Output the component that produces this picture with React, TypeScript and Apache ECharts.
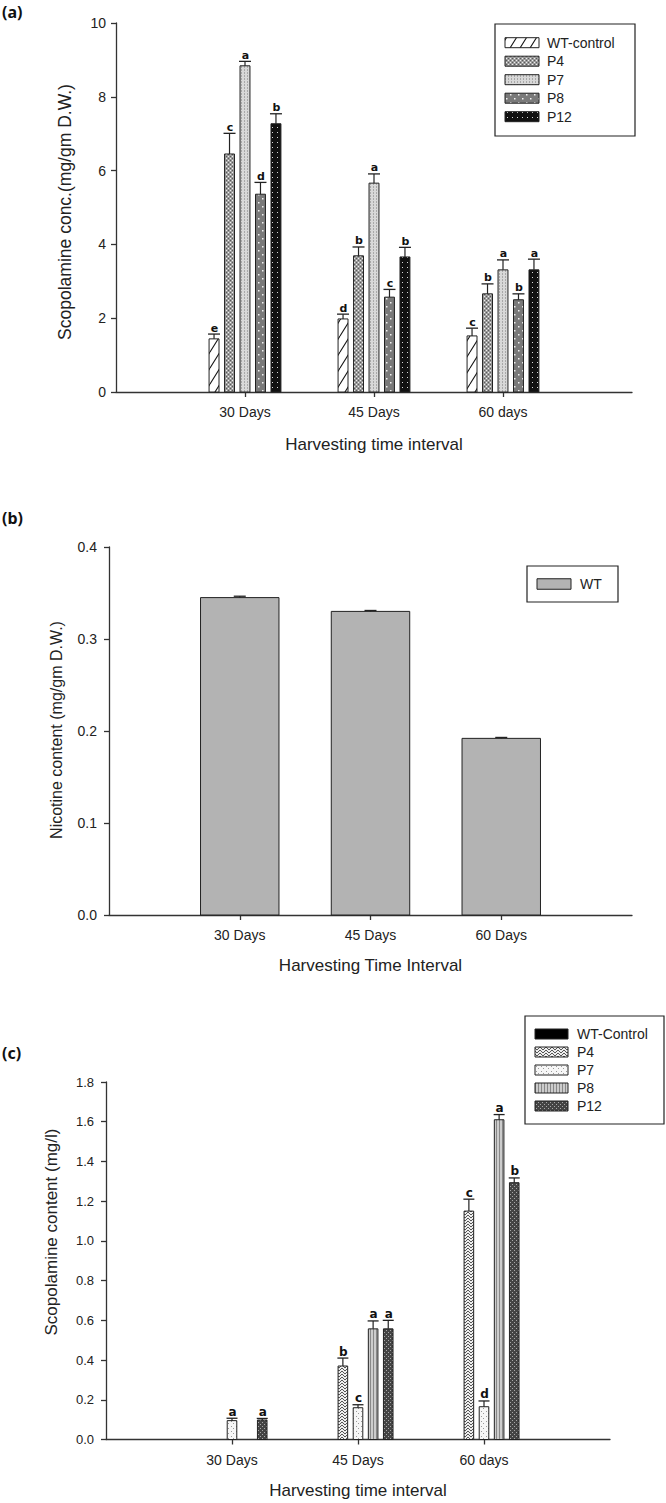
import { useEffect, useRef } from 'react';
import * as echarts from 'echarts';

const FONT = "'Liberation Sans', Arial, Helvetica, sans-serif";
const BOLD = "'DejaVu Sans', 'Noto Sans', sans-serif";
const PANEL_FONT = "'Noto Sans', 'DejaVu Sans', sans-serif";

// ---------- Panel (a) ----------
const catsA = ['30 Days', '45 Days', '60 days'];
const namesA = ['WT-control', 'P4', 'P7', 'P8', 'P12'];
const aWT = [1.44, 1.98, 1.52];
const aWTErr = [0.13, 0.13, 0.21];
const aWTSig = ['e', 'd', 'c'];
const aP4 = [6.45, 3.69, 2.66];
const aP4Err = [0.56, 0.24, 0.27];
const aP4Sig = ['c', 'b', 'b'];
const aP7 = [8.84, 5.66, 3.31];
const aP7Err = [0.12, 0.25, 0.27];
const aP7Sig = ['a', 'a', 'a'];
const aP8 = [5.36, 2.57, 2.5];
const aP8Err = [0.32, 0.21, 0.16];
const aP8Sig = ['d', 'c', 'b'];
const aP12 = [7.27, 3.66, 3.31];
const aP12Err = [0.27, 0.26, 0.29];
const aP12Sig = ['b', 'b', 'a'];
const ticksA = [0, 2, 4, 6, 8, 10];

// ---------- Panel (b) ----------
const catsB = ['30 Days', '45 Days', '60 Days'];
const namesB = ['WT'];
const bWT = [0.345, 0.330, 0.192];
const bWTErr = [0.0015, 0.001, 0.001];
const ticksB = [0, 0.1, 0.2, 0.3, 0.4];

// ---------- Panel (c) ----------
const catsC = ['30 Days', '45 Days', '60 days'];
const namesC = ['WT-Control', 'P4', 'P7', 'P8', 'P12'];
const cWT = [null, null, null];
const cWTErr = [null, null, null];
const cWTSig = ['', '', ''];
const cP4 = [null, 0.37, 1.15];
const cP4Err = [null, 0.04, 0.06];
const cP4Sig = ['', 'b', 'c'];
const cP7 = [0.095, 0.16, 0.165];
const cP7Err = [0.012, 0.015, 0.029];
const cP7Sig = ['a', 'c', 'd'];
const cP8 = [null, 0.557, 1.61];
const cP8Err = [null, 0.04, 0.026];
const cP8Sig = ['', 'a', 'a'];
const cP12 = [0.098, 0.557, 1.293];
const cP12Err = [0.008, 0.043, 0.024];
const cP12Sig = ['a', 'a', 'b'];
const ticksC = [0, 0.2, 0.4, 0.6, 0.8, 1.0, 1.2, 1.4, 1.6, 1.8];

type Draw = (ctx: CanvasRenderingContext2D, w: number, h: number) => void;

function tile(w: number, h: number, draw: Draw): any {
  const c = document.createElement('canvas');
  c.width = w;
  c.height = h;
  const ctx = c.getContext('2d') as CanvasRenderingContext2D;
  draw(ctx, w, h);
  return { image: c.toDataURL(), repeat: 'repeat', imageWidth: w, imageHeight: h };
}

function makePatterns() {
  const aWTp = tile(10, 16, (ctx, w, h) => {
    ctx.fillStyle = '#fff';
    ctx.fillRect(0, 0, w, h);
    ctx.strokeStyle = '#111';
    ctx.lineWidth = 1.1;
    for (const o of [-w, 0, w]) {
      ctx.beginPath();
      ctx.moveTo(o, h);
      ctx.lineTo(o + w, 0);
      ctx.stroke();
    }
  });
  const aP4p = tile(4, 4, (ctx) => {
    ctx.fillStyle = '#9c9c9c';
    ctx.fillRect(0, 0, 4, 4);
    ctx.fillStyle = '#efefef';
    ctx.fillRect(0, 0, 1, 1);
    ctx.fillRect(2, 2, 1, 1);
    ctx.fillStyle = '#5a5a5a';
    ctx.fillRect(2, 0, 1, 1);
    ctx.fillRect(0, 2, 1, 1);
  });
  const aP7p = tile(3, 3, (ctx) => {
    ctx.fillStyle = '#d8d8d8';
    ctx.fillRect(0, 0, 3, 3);
    ctx.fillStyle = '#a8a8a8';
    ctx.fillRect(1, 0, 1, 2);
  });
  const aP8p = tile(8, 8, (ctx) => {
    ctx.fillStyle = '#7a7a7a';
    ctx.fillRect(0, 0, 8, 8);
    ctx.fillStyle = '#f2f2f2';
    ctx.fillRect(2, 2, 1.5, 1.5);
    ctx.fillRect(6, 6, 1.5, 1.5);
  });
  const aP12p = tile(5, 5, (ctx) => {
    ctx.fillStyle = '#111';
    ctx.fillRect(0, 0, 5, 5);
    ctx.fillStyle = '#d8d8d8';
    ctx.fillRect(2, 2, 1, 1);
  });
  const cP4p = tile(6, 6, (ctx) => {
    ctx.fillStyle = '#eeeeee';
    ctx.fillRect(0, 0, 6, 6);
    ctx.strokeStyle = '#555';
    ctx.lineWidth = 1;
    ctx.beginPath();
    ctx.moveTo(0, 0);
    ctx.lineTo(3, 3);
    ctx.lineTo(6, 0);
    ctx.moveTo(0, 3);
    ctx.lineTo(3, 6);
    ctx.lineTo(6, 3);
    ctx.stroke();
  });
  const cP7p = tile(5, 5, (ctx) => {
    ctx.fillStyle = '#f6f6f6';
    ctx.fillRect(0, 0, 5, 5);
    ctx.fillStyle = '#9a9a9a';
    ctx.fillRect(1, 1, 1, 1);
    ctx.fillRect(3, 3, 1, 1);
  });
  const cP8p = tile(3, 3, (ctx) => {
    ctx.fillStyle = '#cccccc';
    ctx.fillRect(0, 0, 3, 3);
    ctx.fillStyle = '#888';
    ctx.fillRect(1, 0, 1, 3);
  });
  const cP12p = tile(4, 4, (ctx) => {
    ctx.fillStyle = '#444';
    ctx.fillRect(0, 0, 4, 4);
    ctx.fillStyle = '#a8a8a8';
    ctx.fillRect(0, 0, 1, 1);
    ctx.fillRect(2, 2, 1, 1);
  });
  return {
    a: [aWTp, aP4p, aP7p, aP8p, aP12p],
    b: ['#b3b3b3'],
    c: ['#000', cP4p, cP7p, cP8p, cP12p],
  };
}

function toData(vals: (number | null)[], errs: (number | null)[]) {
  return vals.map((v, i) => [i + 1, v == null ? '-' : v, errs[i] == null ? 0 : errs[i]]);
}

function makeRender(idx: number, n: number, barW: number, step: number, fill: any, sigs: string[], capHalf: number, sigSize: number) {
  return (params: any, api: any) => {
    const v = api.value(1);
    if (v == null || isNaN(v)) return null;
    const x = api.value(0) + (idx - (n - 1) / 2) * step;
    const e = api.value(2) || 0;
    const p0 = api.coord([x - barW / 2, 0]);
    const p1 = api.coord([x + barW / 2, v]);
    const pc = api.coord([x, v]);
    const pe = api.coord([x, v + e]);
    const children: any[] = [
      {
        type: 'rect',
        shape: { x: p0[0], y: p1[1], width: p1[0] - p0[0], height: p0[1] - p1[1] },
        style: { fill, stroke: '#222', lineWidth: 1 },
      },
    ];
    if (e > 0) {
      children.push({
        type: 'line',
        shape: { x1: pc[0], y1: pc[1], x2: pc[0], y2: pe[1] },
        style: { stroke: '#222', lineWidth: 1.2 },
      });
      children.push({
        type: 'line',
        shape: { x1: pc[0] - capHalf, y1: pe[1], x2: pc[0] + capHalf, y2: pe[1] },
        style: { stroke: '#222', lineWidth: 1.3 },
      });
    }
    const s = sigs[params.dataIndex];
    if (s) {
      children.push({
        type: 'text',
        x: pc[0] + 0.5,
        y: pe[1] - 0.5,
        style: { text: s, fontSize: sigSize, fontWeight: 'bold', fontFamily: BOLD, fill: '#111', align: 'center', verticalAlign: 'bottom' },
      });
    }
    return { type: 'group', children };
  };
}

function xAxisFor(gridIndex: number, cats: string[], name: string, gap: number) {
  return {
    type: 'value',
    gridIndex,
    min: 0,
    max: 4,
    interval: 1,
    name,
    nameLocation: 'middle',
    nameGap: gap,
    nameTextStyle: { fontFamily: FONT, fontSize: 17, color: '#222' },
    axisLine: { show: true, onZero: false, lineStyle: { color: '#333', width: 1.3 } },
    axisTick: { show: true, length: 5, customValues: [1, 2, 3], lineStyle: { color: '#333', width: 1.3 } },
    axisLabel: {
      customValues: [1, 2, 3],
      margin: 13,
      fontFamily: FONT,
      fontSize: 14,
      color: '#222',
      formatter: (v: number) => cats[Math.round(v) - 1] ?? '',
    },
    splitLine: { show: false },
  };
}

function yAxisFor(gridIndex: number, ticks: number[], digits: number, fontSize: number, margin: number) {
  return {
    type: 'value',
    gridIndex,
    min: ticks[0],
    max: ticks[ticks.length - 1],
    interval: ticks[1] - ticks[0],
    axisLine: { show: true, lineStyle: { color: '#333', width: 1.3 } },
    axisTick: { show: true, length: 5, lineStyle: { color: '#333', width: 1.3 } },
    axisLabel: {
      margin,
      fontFamily: FONT,
      fontSize,
      color: '#222',
      formatter: (v: number) => v.toFixed(digits),
    },
    splitLine: { show: false },
  };
}

function legendGraphic(x: number, y: number, w: number, h: number, names: string[], fills: any[], rowY0: number, rowStep: number, swX: number, swW: number, swH: number, textX: number) {
  const children: any[] = [
    { type: 'rect', shape: { x, y, width: w, height: h }, style: { fill: '#fff', stroke: '#222', lineWidth: 1.2 } },
  ];
  names.forEach((nm, i) => {
    const cy = rowY0 + i * rowStep;
    children.push({
      type: 'rect',
      shape: { x: swX, y: cy - swH / 2, width: swW, height: swH },
      style: { fill: fills[i], stroke: '#222', lineWidth: 1 },
    });
    children.push({
      type: 'text',
      x: textX,
      y: cy,
      style: { text: nm, fontFamily: FONT, fontSize: 14, fill: '#222', align: 'left', verticalAlign: 'middle' },
    });
  });
  return { type: 'group', children };
}

export default function App() {
  const ref = useRef<HTMLDivElement>(null);
  useEffect(() => {
    if (!ref.current) return;
    const chart = echarts.init(ref.current, undefined, { renderer: 'svg' });
    const P = makePatterns();

    const seriesA = [
      [aWT, aWTErr, aWTSig],
      [aP4, aP4Err, aP4Sig],
      [aP7, aP7Err, aP7Sig],
      [aP8, aP8Err, aP8Sig],
      [aP12, aP12Err, aP12Sig],
    ].map((s: any, i) => ({
      type: 'custom',
      name: namesA[i],
      xAxisIndex: 0,
      yAxisIndex: 0,
      data: toData(s[0], s[1]),
      renderItem: makeRender(i, 5, 0.077, 0.12, P.a[i], s[2], 6, 11),
    }));

    const seriesB = [
      {
        type: 'custom',
        name: namesB[0],
        xAxisIndex: 1,
        yAxisIndex: 1,
        data: toData(bWT, bWTErr),
        renderItem: makeRender(0, 1, 0.6, 0, P.b[0], ['', '', ''], 6, 11),
      },
    ];

    const seriesC = [
      [cWT, cWTErr, cWTSig],
      [cP4, cP4Err, cP4Sig],
      [cP7, cP7Err, cP7Sig],
      [cP8, cP8Err, cP8Sig],
      [cP12, cP12Err, cP12Sig],
    ].map((s: any, i) => ({
      type: 'custom',
      name: namesC[i],
      xAxisIndex: 2,
      yAxisIndex: 2,
      data: toData(s[0], s[1]),
      renderItem: makeRender(i, 5, 0.076, 0.12, P.c[i], s[2], 5.5, 12),
    }));

    const option: any = {
      animation: false,
      backgroundColor: '#fff',
      grid: [
        { left: 116, right: 34, top: 23, bottom: 1503 - 392 },
        { left: 109, right: 34, top: 547, bottom: 1503 - 915 },
        { left: 106, right: 56, top: 1082, bottom: 1503 - 1439.5 },
      ],
      xAxis: [
        xAxisFor(0, catsA, 'Harvesting time interval', 44),
        xAxisFor(1, catsB, 'Harvesting Time Interval', 42),
        xAxisFor(2, catsC, 'Harvesting time interval', 42),
      ],
      yAxis: [
        yAxisFor(0, ticksA, 0, 14, 10),
        yAxisFor(1, ticksB, 1, 14, 12),
        yAxisFor(2, ticksC, 1, 13, 12),
      ],
      graphic: [
        { type: 'text', x: 2, y: 12, style: { text: '(a)', fontFamily: PANEL_FONT, fontWeight: 'bold', fontSize: 16, fill: '#111', verticalAlign: 'middle' } },
        { type: 'text', x: 2, y: 518, style: { text: '(b)', fontFamily: PANEL_FONT, fontWeight: 'bold', fontSize: 16, fill: '#111', verticalAlign: 'middle' } },
        { type: 'text', x: 2, y: 1053, style: { text: '(c)', fontFamily: PANEL_FONT, fontWeight: 'bold', fontSize: 16, fill: '#111', verticalAlign: 'middle' } },
        { type: 'text', x: 65, y: 212, rotation: Math.PI / 2, style: { text: 'Scopolamine conc.(mg/gm D.W.)', fontFamily: FONT, fontSize: 17.5, fill: '#222', align: 'center', verticalAlign: 'middle' } },
        { type: 'text', x: 56, y: 730, rotation: Math.PI / 2, style: { text: 'Nicotine content (mg/gm D.W.)', fontFamily: FONT, fontSize: 16, fill: '#222', align: 'center', verticalAlign: 'middle' } },
        { type: 'text', x: 51, y: 1232, rotation: Math.PI / 2, style: { text: 'Scopolamine content (mg/l)', fontFamily: FONT, fontSize: 17, fill: '#222', align: 'center', verticalAlign: 'middle' } },
        legendGraphic(495, 24, 140, 112, namesA, P.a, 42.7, 18.5, 505, 34, 10, 547),
        legendGraphic(527, 566, 91, 36, namesB, P.b, 584, 18, 537, 34, 10.5, 580),
        legendGraphic(525, 1016, 139, 108, namesC, P.c, 1034, 18, 535, 33, 10, 577),
      ],
      series: [...seriesA, ...seriesB, ...seriesC],
    };
    chart.setOption(option);
    return () => chart.dispose();
  }, []);
  return <div ref={ref} style={{ position: 'absolute', left: 0, top: 0, width: 666, height: 1503 }} />;
}
